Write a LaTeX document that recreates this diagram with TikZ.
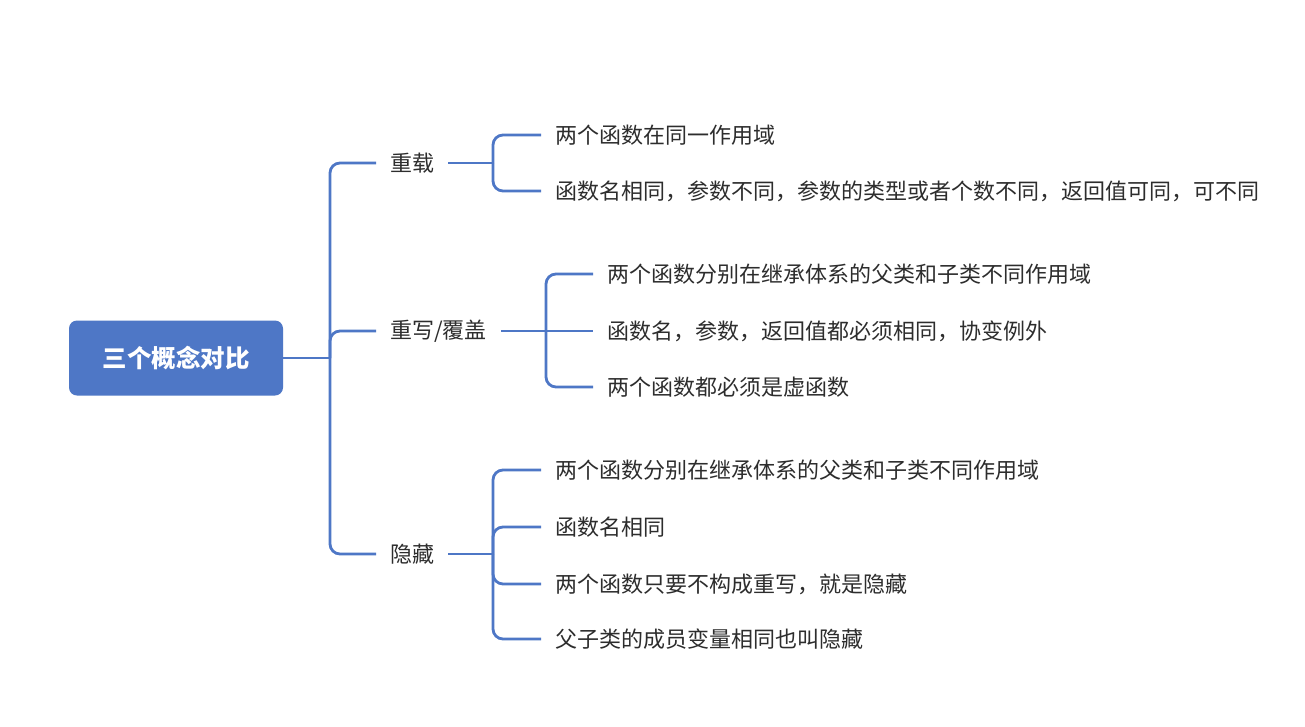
\documentclass[tikz,border=0pt]{standalone}
\usepackage{fontspec}
\newfontfamily\cjk{Noto Sans CJK SC}
\definecolor{mapblue}{RGB}{78,119,198}
\definecolor{txt}{RGB}{45,45,45}
\begin{document}
\begin{tikzpicture}[x=1pt,y=-1pt,
  conn/.style={draw=mapblue,line width=2.8pt,rounded corners=10pt},
  lbl/.style={anchor=west,inner xsep=14pt,inner ysep=2pt,text=txt,font=\cjk\fontsize{22}{26}\selectfont},
  rootbox/.style={fill=mapblue,rounded corners=8pt,minimum width=214pt,minimum height=75pt,text=white,font=\cjk\bfseries\fontsize{24.5}{28}\selectfont}]
\fill[white] (0,0) rectangle (1305,726);
\useasboundingbox (0,0) rectangle (1305,726);
% root
\node[rootbox] (root) at (176,358) {三个概念对比};
\coordinate (j0) at (330,358);
% level 1
\node[lbl] (a) at (376,163) {重载};
\node[lbl] (b) at (376,331) {重写/覆盖};
\node[lbl] (c) at (376,554) {隐藏};
% level 2
\node[lbl] (a1) at (541,135) {两个函数在同一作用域};
\node[lbl] (a2) at (541,191) {函数名相同，参数不同，参数的类型或者个数不同，返回值可同，可不同};
\node[lbl] (b1) at (593,274) {两个函数分别在继承体系的父类和子类不同作用域};
\node[lbl] (b2) at (593,331) {函数名，参数，返回值都必须相同，协变例外};
\node[lbl] (b3) at (593,387) {两个函数都必须是虚函数};
\node[lbl] (c1) at (541,470) {两个函数分别在继承体系的父类和子类不同作用域};
\node[lbl] (c2) at (541,527) {函数名相同};
\node[lbl] (c3) at (541,584) {两个函数只要不构成重写，就是隐藏};
\node[lbl] (c4) at (541,639) {父子类的成员变量相同也叫隐藏};
\coordinate (ja) at (493,163);
\coordinate (jb) at (546,331);
\coordinate (jc) at (493,554);
% connectors
\draw[conn,line width=2pt] (root.east) -- (j0);
\draw[conn] (j0) |- (a.west);
\draw[conn] (j0) |- (b.west);
\draw[conn] (j0) |- (c.west);
\draw[conn] (a.east) -- (ja);
\draw[conn] (ja) |- (a1.west);
\draw[conn] (ja) |- (a2.west);
\draw[conn] (b.east) -- (jb);
\draw[conn] (jb) |- (b1.west);
\draw[conn] (jb) -- (b2.west);
\draw[conn] (jb) |- (b3.west);
\draw[conn] (c.east) -- (jc);
\draw[conn] (jc) |- (c1.west);
\draw[conn] (jc) |- (c2.west);
\draw[conn] (jc) |- (c3.west);
\draw[conn] (jc) |- (c4.west);
\end{tikzpicture}
\end{document}
